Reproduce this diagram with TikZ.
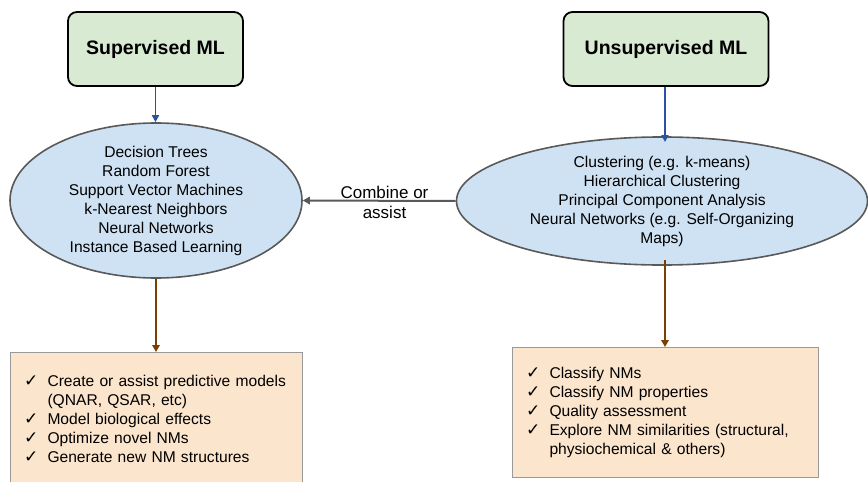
\documentclass[tikz,border=0pt]{standalone}
\usepackage{fontspec}
\setmainfont{Liberation Sans}
\newfontfamily\symf{DejaVu Sans}
\usetikzlibrary{shapes.geometric,arrows.meta}
\definecolor{greenfill}{HTML}{D9EAD3}
\definecolor{bluefill}{HTML}{CFE2F3}
\definecolor{orangefill}{HTML}{FCE5CD}
\definecolor{ellborder}{HTML}{595959}
\definecolor{boxborder}{HTML}{999999}
\definecolor{bluearrow}{HTML}{2A52A0}
\definecolor{brownarrow}{HTML}{7B3F00}
\definecolor{greyarrow}{HTML}{595959}
\newcommand{\chk}{{\symf\fontsize{17}{19}\selectfont ✓}}
\begin{document}
\begin{tikzpicture}[x=1pt,y=-1pt,
  topbox/.style={draw=black, line width=1.8pt, fill=greenfill, rounded corners=9pt,
    minimum height=74pt, inner sep=0pt, font=\fontsize{19.5}{23}\selectfont\bfseries},
  ellnode/.style={ellipse, draw=ellborder, line width=1.6pt, fill=bluefill, inner sep=0pt,
    align=center, font=\fontsize{15.6}{19}\selectfont},
  outbox/.style={draw=boxborder, line width=1pt, fill=orangefill, inner xsep=13.5pt, inner ysep=0pt,
    align=left, font=\fontsize{15.6}{19}\selectfont},
  bluearr/.style={draw=bluearrow, line width=1.7pt, -{Triangle[length=7pt,width=7pt]}},
  brownarr/.style={draw=brownarrow, line width=2pt, -{Triangle[length=7pt,width=7.5pt]}},
  greyarr/.style={draw=greyarrow, line width=2pt, -{Triangle[length=7pt,width=7.5pt]}},
  lbl/.style={align=center, font=\fontsize{17}{20}\selectfont, inner sep=0pt}
]
\useasboundingbox (0,0) rectangle (868,482);
\clip (0,0) rectangle (868,482);

\node[topbox, minimum width=175pt] (sup) at (155.5,49) {Supervised ML};
\node[topbox, minimum width=205pt] (unsup) at (666,49) {Unsupervised ML};

\node[ellnode, minimum width=292pt, minimum height=155pt] (lell) at (156,200.5)
  {Decision Trees\\Random Forest\\Support Vector Machines\\k-Nearest Neighbors\\Neural Networks\\Instance Based Learning};
\node[ellnode, minimum width=411pt, minimum height=118pt] (rell) at (662,201)
  {Clustering (e.g. k-means)\\Hierarchical Clustering\\Principal Component Analysis\\Neural Networks (e.g. Self-Organizing\\Maps)};

\node[outbox, text width=265pt, minimum height=137pt, anchor=north west] (lbox) at (10,352)
  {\begin{tabular}{@{}p{23.5pt}@{}l@{}}
   \chk & Create or assist predictive models\\
        & (QNAR, QSAR, etc)\\
   \chk & Model biological effects\\
   \chk & Optimize novel NMs\\
   \chk & Generate new NM structures
   \end{tabular}};
\node[outbox, text width=279pt, minimum height=130pt, anchor=north west] (rbox) at (512,347)
  {\begin{tabular}{@{}p{23.5pt}@{}l@{}}
   \chk & Classify NMs\\
   \chk & Classify NM properties\\
   \chk & Quality assessment\\
   \chk & Explore NM similarities (structural,\\
        & physiochemical \& others)
   \end{tabular}};

\draw[bluearr] (sup.south) -- (sup.south |- lell.north);
\coordinate (rtop) at (665,142);
\draw[bluearr] (unsup.south -| rtop) -- (rtop);
\draw[brownarr] (lell.south) -- (lell.south |- lbox.north);
\coordinate (rbot) at (665,260);
\draw[brownarr] (rbot) -- (rbot |- rbox.north);
\draw[greyarr] (rell.west) -- (lell.east);
\node[lbl] (comb) at (384.5,202) {Combine or\\assist};
\end{tikzpicture}
\end{document}
